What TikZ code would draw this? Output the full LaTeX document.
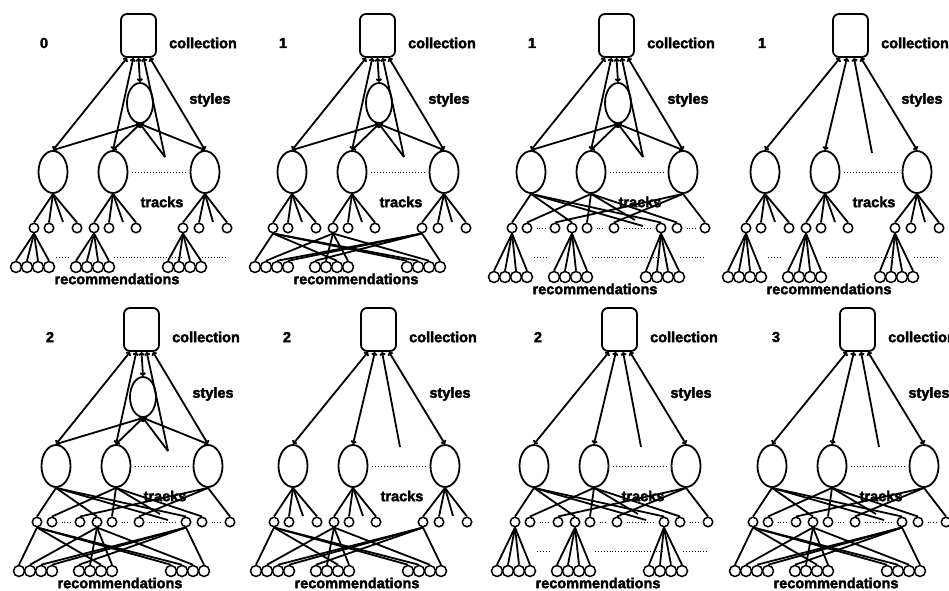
\documentclass[tikz,border=0pt]{standalone}
\usepackage{fontspec}
\setmainfont{Liberation Sans}
\newfontfamily\heavyfont{Liberation Sans Bold}[FakeBold=2.5]
\usetikzlibrary{arrows.meta,shapes.geometric}

\newcommand{\drawpanel}[9]{%
  \begin{scope}[shift={(#2,#3)},name prefix=#1-]
    \node[tag] (num) at (#4,43) {#5};
    \node[tag] (lcoll) at (203,43) {collection};
    \node[tag] (lsty) at (210,100) {styles};
    \node[tag] (ltrk) at (162,202) {tracks};
    \node[tag] (lrec) at (117,#9+12) {recommendations};
    \node[coll] (coll) at (138.5,35.5) {};
    \foreach \n/\x in {e1/53,e2/113,e3/205}
      \node[trk] (\n) at (\x,172) {};
    \draw[dots] (e2.east) -- (e3.west);
    \foreach \n/\x in {1/34,2/49,3/77,4/94,5/109,6/136,7/183,8/199,9/227}
      \node[tc] (c\n) at (\x,228) {};
    \foreach \g/\x in {1/16,2/76,3/168}
      \foreach \k in {1,...,4}
        \node[rc] (r\g\k) at (\x+11*\k-11,#9) {};
    \ifnum#6=1
      \node[sty] (sty) at (140,103) {};
      \coordinate (s0) at (165,157);
      \draw[link] (coll.-117) -- (e1.north);
      \draw[link] (coll.-103) -- (e2.north);
      \draw[link] (coll.-90) -- (sty.north);
      \draw[linkstub] (coll.-77) -- (s0);
      \draw[link] (coll.-63) -- (e3.north);
      \foreach \n in {e1,e2,e3}
        \draw[link] (sty.south) -- (\n.north);
      \draw[linkstub] (sty.south) -- (s0);
    \else
      \coordinate (s0) at (160,153);
      \draw[link] (coll.-115) -- (e1.north);
      \draw[link] (coll.-99) -- (e2.north);
      \draw[linkstub] (coll.-81) -- (s0);
      \draw[link] (coll.-65) -- (e3.north);
    \fi
    \ifnum#7=1
      \foreach \i/\pa/\pb/\pc in {1/1/4/7,2/2/5/8,3/3/6/9}{
        \draw[wire] (e\i.south) -- (c\pa.north);
        \draw[wire] (e\i.south) -- (c\pb.north);
        \draw[wire] (e\i.south) -- (c\pc.north);
      }
      \coordinate (u1) at (165,226);
      \coordinate (u2) at (157,220);
      \draw[wire] (e1.south) -- (u1);
      \draw[wire] (e2.south) -- (u2);
      \foreach \pa/\pb in {2/3,5/6,6/7,8/9}
        \draw[dots] (c\pa.east) -- (c\pb.west);
    \else
      \foreach \i/\pa/\pb/\pc/\x in {1/1/2/3/63,2/4/5/6/123,3/7/8/9/213}{
        \coordinate (u\i) at (\x,222);
        \draw[wire] (e\i.south) -- (c\pa.north);
        \draw[wire] (e\i.south) -- (c\pb.north);
        \draw[wire] (e\i.south) -- (c\pc.north);
        \draw[wire] (e\i.south) -- (u\i);
      }
    \fi
    \ifnum#8=1
      \foreach \p/\qa/\qb/\qc/\qd in {1/11/23/31/32,4/12/22/24/33,7/13/14/21/34}{
        \draw[wire] (c\p.south) -- (r\qa.north);
        \draw[wire] (c\p.south) -- (r\qb.north);
        \draw[wire] (c\p.south) -- (r\qc.north);
        \draw[wire] (c\p.south) -- (r\qd.north);
      }
    \else
      \foreach \p/\g in {1/1,4/2,7/3}
        \foreach \k in {1,...,4}
          \draw[wire] (c\p.south) -- (r\g\k.north);
      \foreach \xa/\xb in {52/72,110/187,198/230}
        \draw[dots] (\xa,257) -- (\xb,257);
    \fi
  \end{scope}}

\begin{document}
\begin{tikzpicture}[x=1pt,y=-1pt,
    tag/.style={font=\heavyfont\fontsize{14.5}{16}\selectfont,inner sep=0pt},
    coll/.style={draw,line width=1.8pt,rounded corners=6pt,minimum width=35pt,minimum height=43pt,inner sep=0pt},
    trk/.style={draw,ellipse,line width=1.8pt,minimum width=29pt,minimum height=42pt,inner sep=0pt},
    sty/.style={trk,minimum width=26pt,minimum height=40pt},
    tc/.style={draw,circle,line width=1.5pt,minimum size=9.5pt,inner sep=0pt},
    rc/.style={tc,minimum size=11pt},
    wire/.style={line width=1.8pt},
    link/.style={wire,{Straight Barb[length=2pt,width=5pt]}-{Straight Barb[length=2pt,width=5pt]}},
    linkstub/.style={wire,{Straight Barb[length=2pt,width=5pt]}-},
    dots/.style={line width=0.9pt,dotted,shorten <=4pt,shorten >=4pt}]
  \useasboundingbox (0,0) rectangle (949,590);
  \fill[white] (0,0) rectangle (949,590);
  \drawpanel{t1}{0}{0}{44}{0}{1}{0}{0}{267}
  \drawpanel{t2}{239}{0}{44}{1}{1}{0}{1}{267}
  \drawpanel{t3}{478}{0}{54}{1}{1}{1}{0}{277}
  \drawpanel{t4}{712}{0}{50}{1}{0}{0}{0}{277}
  \drawpanel{b1}{3}{294}{47}{2}{1}{1}{1}{277}
  \drawpanel{b2}{240}{294}{47}{2}{0}{0}{1}{277}
  \drawpanel{b3}{481}{294}{57}{2}{0}{1}{0}{277}
  \drawpanel{b4}{719}{294}{57}{3}{0}{1}{1}{277}
\end{tikzpicture}
\end{document}
